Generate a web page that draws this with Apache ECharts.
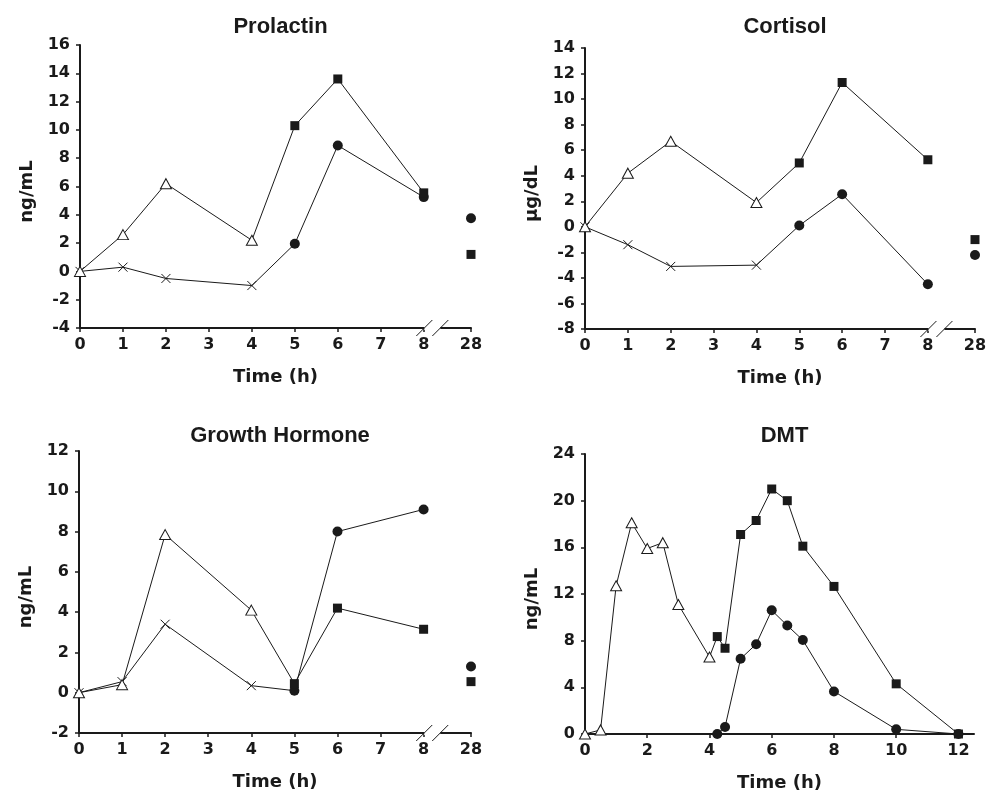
<!DOCTYPE html>
<html>
<head>
<meta charset="utf-8">
<script src="https://cdn.jsdelivr.net/npm/echarts@6/dist/echarts.min.js"></script>
<style>
html,body{margin:0;padding:0;background:#fff;}
#c{width:998px;height:793px;}
</style>
</head>
<body>
<div id="c"></div>
<script>
// ---------------- DATA ----------------
// Hormone panels: sampling times (h). The first 4 samples (0-4 h) use triangle / cross markers,
// the later ones square / circle markers. 28 h values are shown unconnected after an axis break.
const hormoneHours = [0, 1, 2, 4, 5, 6, 8];
const earlySampleCount = 4;
const lateHour = 28;
const hormoneTickLabels = [0, 1, 2, 3, 4, 5, 6, 7, 8, 28];

const prolactinUpper = [0, 2.6, 6.2, 2.2, 10.3, 13.6, 5.55];
const prolactinLower = [0, 0.3, -0.5, -1.0, 1.95, 8.9, 5.25];
const prolactinLateSquare = 1.2;
const prolactinLateCircle = 3.75;

const cortisolUpper = [0, 4.2, 6.7, 1.9, 5.0, 11.3, 5.25];
const cortisolLower = [0, -1.4, -3.1, -3.0, 0.1, 2.55, -4.5];
const cortisolLateSquare = -1.0;
const cortisolLateCircle = -2.2;

const ghUpper = [0, 0.4, 7.85, 4.1, 0.45, 4.2, 3.15];
const ghLower = [0, 0.55, 3.4, 0.35, 0.1, 8.0, 9.1];
const ghLateSquare = 0.55;
const ghLateCircle = 1.3;

// DMT panel
const dmtTriangleHours = [0, 0.5, 1, 1.5, 2, 2.5, 3, 4];
const dmtTriangleValues = [0, 0.35, 12.7, 18.1, 15.9, 16.4, 11.1, 6.6];
const dmtLateHours = [4.25, 4.5, 5, 5.5, 6, 6.5, 7, 8, 10, 12];
const dmtSquareValues = [8.35, 7.35, 17.1, 18.3, 21.0, 20.0, 16.1, 12.65, 4.3, 0];
const dmtCircleValues = [0, 0.6, 6.45, 7.7, 10.6, 9.3, 8.05, 3.65, 0.4, 0];
const dmtTickLabels = [0, 2, 4, 6, 8, 10, 12];

// ---------------- STYLE / LAYOUT ----------------
const INK = '#1a1a1a';
const TITLE_FONT = '"Liberation Sans", Arial, Helvetica, sans-serif';
const AXIS_FONT = '"DejaVu Sans", Verdana, sans-serif';
const BREAK_POS = 9.1;     // axis position where the 28 h value is drawn
const BREAK_MARK = 8.2;    // axis position of the "//" break mark
function xPos(h) { return h > 8 ? BREAK_POS : h; }

const SYM = {
  triangle: { symbol: 'triangle', symbolSize: [11, 10], itemStyle: { color: '#fff', borderColor: INK, borderWidth: 1, opacity: 1 } },
  cross: { symbol: 'path://M0,0L10,10M0,10L10,0', symbolSize: 9, itemStyle: { color: 'none', borderColor: INK, borderWidth: 1, opacity: 1 } },
  square: { symbol: 'rect', symbolSize: 9, itemStyle: { color: INK, borderWidth: 0, opacity: 1 } },
  circle: { symbol: 'circle', symbolSize: 10, itemStyle: { color: INK, borderWidth: 0, opacity: 1 } }
};
function pt(x, y, kind) { return Object.assign({ value: [x, y] }, JSON.parse(JSON.stringify(SYM[kind]))); }

const grids = [
  { left: 80, top: 45, width: 391, height: 283 },
  { left: 585, top: 48, width: 390, height: 281 },
  { left: 79, top: 451, width: 392, height: 282 },
  { left: 585, top: 454, width: 389, height: 280 }
];
const titles = ['Prolactin', 'Cortisol', 'Growth Hormone', 'DMT'];
const yNames = ['ng/mL', 'µg/dL', 'ng/mL', 'ng/mL'];
const yRanges = [[-4, 16, 2], [-8, 14, 2], [-2, 12, 2], [0, 24, 4]];

const tickLabelStyle = { color: INK, fontFamily: AXIS_FONT, fontWeight: 'bold', fontSize: 16 };
const nameStyle = { color: INK, fontFamily: AXIS_FONT, fontWeight: 'bold', fontSize: 18 };

const xAxes = grids.map((g, i) => {
  const isDmt = i === 3;
  const ticks = isDmt ? dmtTickLabels : hormoneTickLabels.map(xPos);
  return {
    gridIndex: i, type: 'value',
    min: 0, max: isDmt ? 12.5 : BREAK_POS,
    name: 'Time (h)', nameLocation: 'middle', nameGap: 40, nameTextStyle: nameStyle,
    axisLine: { show: true, onZero: false, lineStyle: { color: INK, width: 2 } },
    axisTick: { show: true, inside: false, length: 4, customValues: ticks, lineStyle: { color: INK, width: 1.5 } },
    axisLabel: Object.assign({ margin: 9, customValues: ticks, showMinLabel: true, showMaxLabel: true,
      formatter: v => (v > 8.5 && !isDmt) ? String(lateHour) : String(Math.round(v)) }, tickLabelStyle),
    splitLine: { show: false }
  };
});

const yAxes = grids.map((g, i) => ({
  gridIndex: i, type: 'value',
  min: yRanges[i][0], max: yRanges[i][1], interval: yRanges[i][2],
  name: yNames[i], nameLocation: 'middle', nameGap: 44,
  nameTextStyle: Object.assign({ padding: [0, 10, 0, 0] }, nameStyle),
  axisLine: { show: true, onZero: false, lineStyle: { color: INK, width: 2 } },
  axisTick: { show: true, length: 4, lineStyle: { color: INK, width: 1.5 } },
  axisLabel: Object.assign({ margin: 10 }, tickLabelStyle),
  splitLine: { show: false }
}));

function lineSeries(i, data, z) {
  return { type: 'line', xAxisIndex: i, yAxisIndex: i, data: data, z: z,
    showAllSymbol: true, silent: true, animation: false,
    itemStyle: { opacity: 1 },
    lineStyle: { color: INK, width: 1 } };
}
function scatterSeries(i, data) {
  return { type: 'scatter', xAxisIndex: i, yAxisIndex: i, data: data, z: 5, silent: true, animation: false,
    itemStyle: { color: INK, opacity: 1 } };
}

const hormonePanels = [
  [prolactinUpper, prolactinLower, prolactinLateSquare, prolactinLateCircle],
  [cortisolUpper, cortisolLower, cortisolLateSquare, cortisolLateCircle],
  [ghUpper, ghLower, ghLateSquare, ghLateCircle]
];

const series = [];
hormonePanels.forEach((p, i) => {
  const [upper, lower, lateSq, lateCi] = p;
  series.push(lineSeries(i, hormoneHours.map((h, k) => pt(xPos(h), lower[k], k < earlySampleCount ? 'cross' : 'circle')), 3));
  series.push(lineSeries(i, hormoneHours.map((h, k) => pt(xPos(h), upper[k], k < earlySampleCount ? 'triangle' : 'square')), 4));
  series.push(scatterSeries(i, [pt(xPos(lateHour), lateSq, 'square'), pt(xPos(lateHour), lateCi, 'circle')]));
});
// DMT
series.push(lineSeries(3, dmtLateHours.map((h, k) => pt(h, dmtCircleValues[k], 'circle')), 3));
series.push(lineSeries(3,
  dmtTriangleHours.map((h, k) => pt(h, dmtTriangleValues[k], 'triangle'))
    .concat(dmtLateHours.map((h, k) => pt(h, dmtSquareValues[k], 'square'))), 4));

const titleTops = [11, 11, 420, 420];
const title = titles.map((t, i) => ({
  text: t, left: grids[i].left + grids[i].width / 2, top: titleTops[i], textAlign: 'center',
  textStyle: { color: INK, fontFamily: TITLE_FONT, fontWeight: 'bold', fontSize: 22 }
}));

const chart = echarts.init(document.getElementById('c'), null, { renderer: 'canvas' });
chart.setOption({
  animation: false,
  backgroundColor: '#fff',
  title: title,
  grid: grids.map(g => Object.assign({ containLabel: false, outerBoundsMode: 'none' }, g)),
  xAxis: xAxes,
  yAxis: yAxes,
  series: series
});

// axis break marks "//" on the three hormone panels
const graphic = [];
[0, 1, 2].forEach(i => {
  const p = chart.convertToPixel({ xAxisIndex: i, yAxisIndex: i }, [BREAK_MARK, yRanges[i][0]]);
  const cx = p[0], cy = p[1];
  graphic.push({ type: 'rect', shape: { x: cx - 8, y: cy - 2, width: 16, height: 4 }, style: { fill: '#fff' }, z: 100, silent: true });
  graphic.push({ type: 'line', shape: { x1: cx - 16, y1: cy + 8, x2: cx, y2: cy - 8 }, style: { stroke: INK, lineWidth: 1 }, z: 101, silent: true });
  graphic.push({ type: 'line', shape: { x1: cx, y1: cy + 8, x2: cx + 16, y2: cy - 8 }, style: { stroke: INK, lineWidth: 1 }, z: 101, silent: true });
});
chart.setOption({ graphic: graphic });
</script>
</body>
</html>
